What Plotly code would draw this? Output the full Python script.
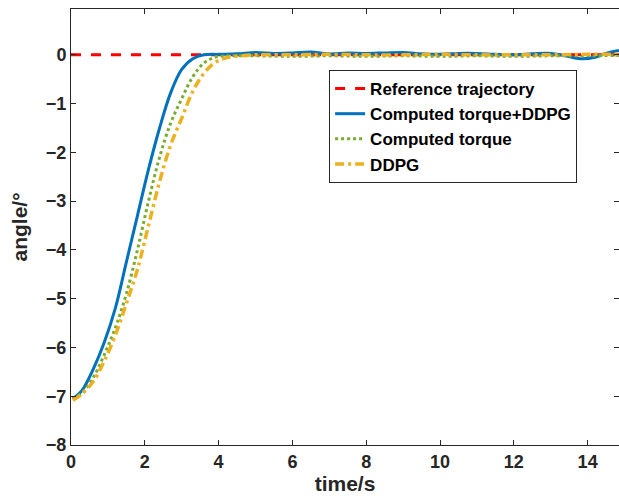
import plotly.graph_objects as go

# ---- data ----
ref_t = [0.0, 14.85]
ref_y = [0.0, 0.0]

blue_t = [0.05, 0.3, 0.6, 0.9, 1.2, 1.5, 1.8, 2.1, 2.4, 2.7, 3.0, 3.3, 3.6,
          4.0, 4.5, 5.0, 5.5, 6.0, 6.5, 7.0, 7.5, 8.0, 8.5, 9.0, 9.5, 10.0, 10.5, 11.0, 11.5, 12.0, 12.5, 13.0, 13.4, 13.8, 14.2, 14.5, 14.85]
blue_y = [-7.05, -6.88, -6.45, -5.90, -5.20, -4.25, -3.30, -2.35, -1.50, -0.78, -0.30, -0.08, 0.00,
          0.01, 0.02, 0.05, 0.03, 0.04, 0.06, 0.02, 0.04, 0.03, 0.04, 0.05, 0.02, 0.01, 0.03, 0.03, 0.01, 0.00, 0.02, 0.03, -0.02, -0.08, -0.05, 0.03, 0.09]

green_t = [0.05, 0.3, 0.6, 0.9, 1.2, 1.5, 1.8, 2.1, 2.4, 2.7, 3.0, 3.3, 3.6, 3.9, 4.2,
           4.6, 5.0, 6.0, 7.0, 8.0, 9.0, 10.0, 11.0, 12.0, 13.0, 14.0, 14.85]
green_y = [-7.05, -6.93, -6.62, -6.15, -5.60, -4.90, -4.00, -3.00, -2.10, -1.40, -0.90, -0.45, -0.17, -0.05, -0.02,
           -0.02, -0.02, -0.03, -0.02, -0.03, -0.02, -0.03, -0.02, -0.03, -0.02, -0.02, -0.01]

orange_t = [0.05, 0.3, 0.6, 0.9, 1.2, 1.5, 1.8, 2.1, 2.4, 2.7, 3.0, 3.3, 3.6, 3.9, 4.2, 4.6,
            5.0, 6.0, 7.0, 8.0, 9.0, 10.0, 11.0, 12.0, 13.0, 14.0, 14.85]
orange_y = [-7.08, -6.95, -6.70, -6.28, -5.75, -5.10, -4.40, -3.50, -2.60, -1.85, -1.30, -0.75, -0.38, -0.16, -0.06, -0.02,
            0.00, 0.00, 0.01, 0.00, 0.00, 0.01, 0.00, 0.00, 0.00, 0.01, 0.01]

x_ticks = [0, 2, 4, 6, 8, 10, 12, 14]
y_ticks = [-8, -7, -6, -5, -4, -3, -2, -1, 0]

FONT = "Liberation Sans, Arial, sans-serif"
AX = "#262626"

fig = go.Figure()
fig.add_trace(go.Scatter(x=ref_t, y=ref_y, mode="lines", name="Reference trajectory",
                         line=dict(color="#FF0000", width=3, dash="10px,10px")))
fig.add_trace(go.Scatter(x=blue_t, y=blue_y, mode="lines", name="Computed torque+DDPG",
                         line=dict(color="#0072BD", width=3, shape="spline", smoothing=1)))
fig.add_trace(go.Scatter(x=green_t, y=green_y, mode="lines", name="Computed torque",
                         line=dict(color="#77AC30", width=3, dash="3px,3px", shape="spline", smoothing=1)))
fig.add_trace(go.Scatter(x=orange_t, y=orange_y, mode="lines", name="DDPG",
                         line=dict(color="#EDB120", width=3.5, dash="9px,4px,3px,4px", shape="spline", smoothing=1)))

fig.update_layout(
    width=619, height=498,
    margin=dict(l=71, r=0, t=9, b=53),
    paper_bgcolor="white", plot_bgcolor="white",
    font=dict(family=FONT, color=AX, size=18, weight="bold"),
    showlegend=True,
    legend=dict(x=0.471, y=0.86, xanchor="left", yanchor="top",
                bgcolor="white", bordercolor="#262626", borderwidth=1,
                font=dict(family=FONT, size=17, color="black", weight="bold"),
                tracegroupgap=0),
)
fig.update_xaxes(range=[0, 14.85], tickmode="array", tickvals=x_ticks,
                 ticks="inside", ticklen=5, tickcolor=AX, showline=True, linecolor=AX, linewidth=1,
                 mirror="ticks", showgrid=False, zeroline=False,
                 tickfont=dict(family=FONT, size=18, color=AX, weight="bold"),
                 title=dict(text="time/s", standoff=1, font=dict(family=FONT, size=21, color=AX, weight="bold")))
fig.update_yaxes(range=[-8, 0.94], tickmode="array", tickvals=y_ticks,
                 ticks="inside", ticklen=5, tickcolor=AX, showline=True, linecolor=AX, linewidth=1,
                 mirror="ticks", showgrid=False, zeroline=False,
                 tickfont=dict(family=FONT, size=18, color=AX, weight="bold"),
                 title=dict(text="angle/°", standoff=12, font=dict(family=FONT, size=21, color=AX, weight="bold")))

fig.write_html("out.html")
